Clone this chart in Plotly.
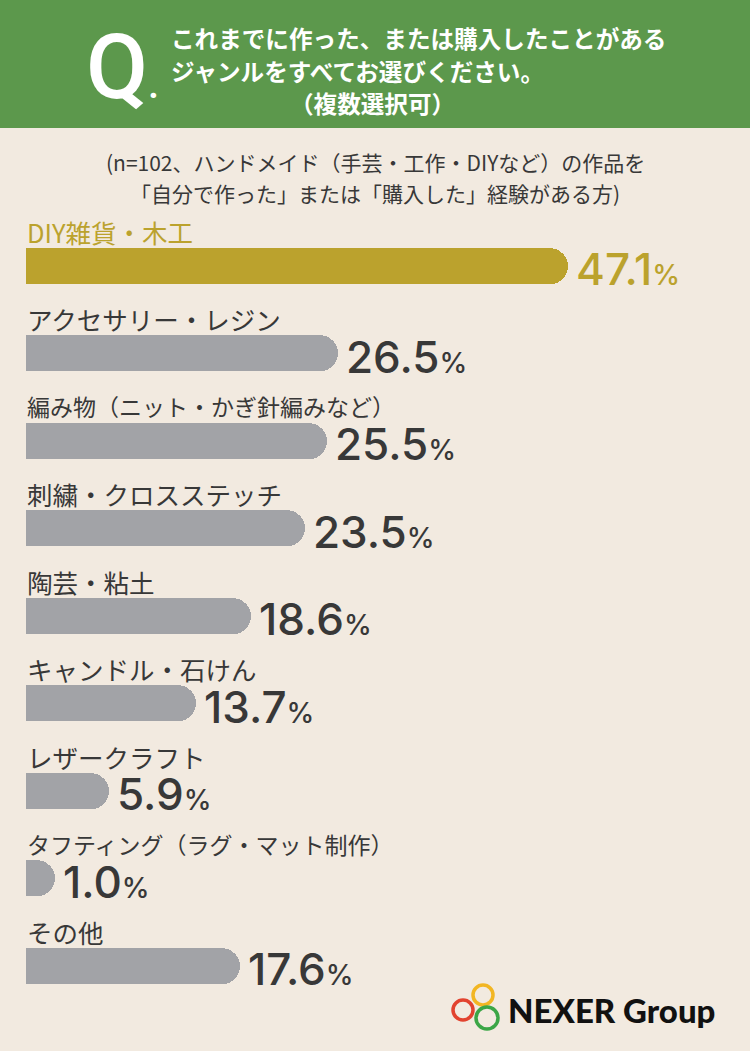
import plotly.graph_objects as go

W, H = 750, 1051

categories = [
    "DIY雑貨・木工",
    "アクセサリー・レジン",
    "編み物（ニット・かぎ針編みなど）",
    "刺繍・クロスステッチ",
    "陶芸・粘土",
    "キャンドル・石けん",
    "レザークラフト",
    "タフティング（ラグ・マット制作）",
    "その他",
]
values = [47.1, 26.5, 25.5, 23.5, 18.6, 13.7, 5.9, 1.0, 17.6]

title_lines = [
    "これまでに作った、または購入したことがある",
    "ジャンルをすべてお選びください。",
]
title_note = "（複数選択可）"
subtitle_lines = [
    "(n=102、ハンドメイド（手芸・工作・DIYなど）の作品を",
    "「自分で作った」または「購入した」経験がある方)",
]

BG = "#f2eae0"
GREEN = "#5c984c"
GOLD = "#bba22d"
GRAY = "#a2a3a7"
TEXT = "#383838"
JP = "Noto Sans CJK JP"
NUM = "Inter"

# the original bars carry a fixed stub so that tiny values still show a cap
PAD = 1.6
PX_PER_UNIT = 11.12
BAR_LEFT = 26
X0 = -BAR_LEFT / PX_PER_UNIT
X1 = X0 + W / PX_PER_UNIT


def py(y_px):
    return 1 - y_px / H


def px(x_px):
    return x_px / W


colors = [GOLD] + [GRAY] * (len(values) - 1)
bar_len = [v + PAD for v in values]

fig = go.Figure()
fig.add_trace(go.Bar(
    y=categories,
    x=bar_len,
    orientation="h",
    width=0.41,
    marker=dict(color=colors, cornerradius=18, line=dict(width=0)),
    customdata=values,
    hovertemplate="%{y}: %{customdata}%<extra></extra>",
))

annotations = []
for i, (cat, v, end) in enumerate(zip(categories, values, bar_len)):
    c = GOLD if i == 0 else TEXT
    lab_size = 23 if "（" in cat else 25.5
    annotations.append(dict(
        x=px(BAR_LEFT - 1), xref="paper", y=cat, yref="y",
        yshift=35, xanchor="left", yanchor="middle", showarrow=False,
        text=cat, font=dict(family=JP, size=lab_size, color=c),
    ))
    annotations.append(dict(
        x=end, xref="x", y=cat, yref="y", xshift=6, yshift=-3,
        xanchor="left", yanchor="middle", showarrow=False,
        text=f"{v:.1f}<span style='font-size:28px'>%</span>",
        font=dict(family=NUM, size=44, color=c, weight=500),
    ))

# header
annotations.append(dict(
    x=px(84), y=py(67), xref="paper", yref="paper",
    xanchor="left", yanchor="middle", showarrow=False,
    text="Q<span style='font-size:40px'>.</span>",
    font=dict(family="Roboto", size=90, color="white", weight=500),
))
for j, line in enumerate(title_lines):
    annotations.append(dict(
        x=px(169), y=py(38 + 33 * j), xref="paper", yref="paper",
        xanchor="left", yanchor="middle", showarrow=False,
        text=line, font=dict(family=JP, size=23.6, color="white", weight="bold"),
    ))
annotations.append(dict(
    x=px(372), y=py(103), xref="paper", yref="paper",
    xanchor="center", yanchor="middle", showarrow=False,
    text=title_note, font=dict(family=JP, size=23.6, color="white", weight="bold"),
))
for j, line in enumerate(subtitle_lines):
    annotations.append(dict(
        x=0.5, y=py(162 + 31 * j), xref="paper", yref="paper",
        xanchor="center", yanchor="middle", showarrow=False,
        text=line, font=dict(family=JP, size=21, color=TEXT),
    ))

# logo text
annotations.append(dict(
    x=px(506), y=py(1010), xref="paper", yref="paper",
    xanchor="left", yanchor="middle", showarrow=False,
    text="NEXER Group",
    font=dict(family="Lato", size=33, color="#111111", weight=900),
))

shapes = [dict(
    type="rect", xref="paper", yref="paper",
    x0=0, x1=1, y0=py(128), y1=1,
    fillcolor=GREEN, line=dict(width=0), layer="below",
)]
for cx, cy, r, col in [(483, 995, 10, "#f2b623"), (463, 1010, 10, "#e2432f"),
                       (487, 1018, 11, "#3ba646")]:
    shapes.append(dict(
        type="circle", xref="paper", yref="paper",
        x0=px(cx - r), x1=px(cx + r), y0=py(cy + r), y1=py(cy - r),
        line=dict(color=col, width=3.5), fillcolor="rgba(0,0,0,0)",
    ))

fig.update_layout(
    width=W, height=H,
    margin=dict(l=0, r=0, t=0, b=0),
    paper_bgcolor=BG, plot_bgcolor=BG,
    showlegend=False,
    xaxis=dict(range=[X0, X1], domain=[0, 1], visible=False, fixedrange=True),
    yaxis=dict(type="category", range=[len(values) - 0.5, -0.5],
               domain=[py(266 + 87.5 * 8 + 43.75), py(266 - 43.75)],
               visible=False, fixedrange=True),
    annotations=annotations,
    shapes=shapes,
    bargap=0,
)

fig.write_html(
    "out.html",
    config={"displayModeBar": False},
    post_script="document.body.style.margin='0';",
)
